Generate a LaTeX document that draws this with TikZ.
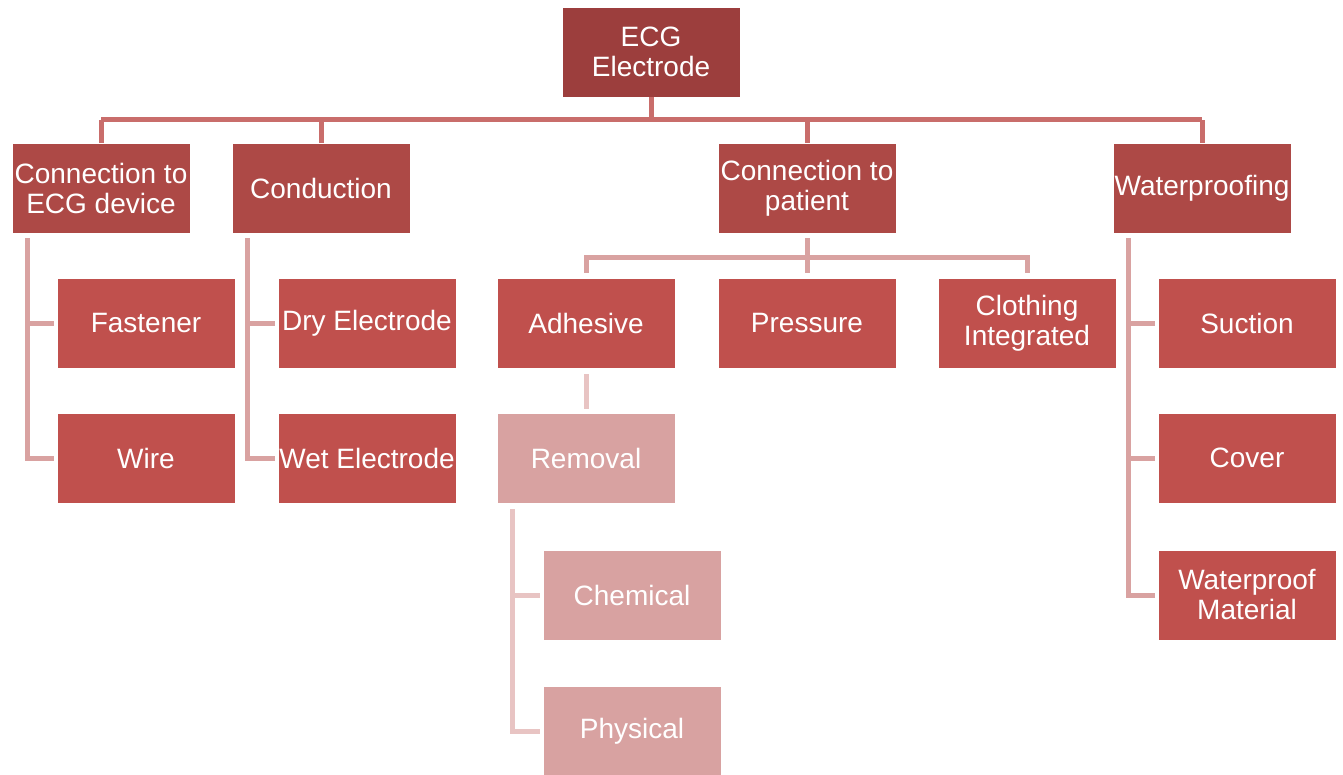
\documentclass[tikz,border=0pt]{standalone}
\usepackage{fontspec}
\setmainfont{Liberation Sans}
\usetikzlibrary{positioning}

\definecolor{rootred}{HTML}{9C3E3D}
\definecolor{topred}{HTML}{AD4946}
\definecolor{midred}{HTML}{C0504D}
\definecolor{palered}{HTML}{D8A2A1}
\definecolor{lineA}{HTML}{C96D6B}
\definecolor{lineB}{HTML}{D9A2A1}
\definecolor{lineC}{HTML}{E8C4C3}

\begin{document}
\begin{tikzpicture}
        [x=0.5pt,y=-0.5pt,
        every node/.style={rectangle,draw=white,line width=0.4pt,text=white,align=center,
          minimum width=89pt,minimum height=45pt,inner sep=0pt,
          font=\fontsize{14}{15}\selectfont},
        rootbox/.style={fill=rootred},
        catbox/.style={fill=topred},
        subbox/.style={fill=midred},
        palebox/.style={fill=palered},
        lnkA/.style={draw=lineA,line width=2.5pt},
        lnkB/.style={draw=lineB,line width=2.5pt},
        lnkC/.style={draw=lineC,line width=2.5pt}]
        \useasboundingbox (0,0) rectangle (1343,775);

        \node[rootbox] (root) at (651,52) {ECG\\Electrode};

        \node[catbox] (dev) at (101,188) {Connection to\\ECG device};
        \node[catbox] (cond) at (321,188) {Conduction};
        \node[catbox] (pat) at (807,188) {Connection to\\patient};
        \node[catbox] (wat) at (1202,188) {Waterproofing};

        \node[subbox] (fast) at (146,323) {Fastener};
        \node[subbox] (wire) at (146,458) {Wire};
        \node[subbox] (dry) at (367,323) {Dry Electrode};
        \node[subbox] (wet) at (367,458) {Wet Electrode};
        \node[subbox] (adh) at (586,323) {Adhesive};
        \node[subbox] (press) at (807,323) {Pressure};
        \node[subbox] (cloth) at (1027,323) {Clothing\\Integrated};
        \node[subbox] (suct) at (1247,323) {Suction};
        \node[subbox] (cover) at (1247,458) {Cover};
        \node[subbox] (wmat) at (1247,595) {Waterproof\\Material};

        \node[palebox] (remo) at (586,458) {Removal};
        \node[palebox] (chem) at (632,595) {Chemical};
        \node[palebox] (phys) at (632,731) {Physical};

        % first level
        \coordinate (bus) at (651,120);
        \draw[lnkA] (root.south) -- (bus);
        \draw[lnkA] (dev.north |- bus) -- (wat.north |- bus);
        \foreach \n in {dev,cond,pat,wat}
          \draw[lnkA] (\n.north) -- (\n.north |- bus);

        % second level
        \coordinate (pbus) at (807,258);
        \draw[lnkB] ([yshift=-2.5pt]pat.south) -- ([yshift=2.5pt]press.north);
        \draw[lnkB] ([yshift=2.5pt]adh.north) |- (pbus) -| ([yshift=2.5pt]cloth.north);
        \draw[lnkB] ([xshift=8pt,yshift=-2.5pt]dev.south west) |- ([xshift=-1.5pt]wire.west);
        \draw[lnkB] ([xshift=8pt]dev.south west |- fast.west) -- ([xshift=-1.5pt]fast.west);
        \draw[lnkB] ([xshift=8pt,yshift=-2.5pt]cond.south west) |- ([xshift=-1.5pt]wet.west);
        \draw[lnkB] ([xshift=8pt]cond.south west |- dry.west) -- ([xshift=-1.5pt]dry.west);
        \draw[lnkB] ([xshift=8pt,yshift=-2.5pt]wat.south west) |- ([xshift=-1.5pt]wmat.west);
        \draw[lnkB] ([xshift=8pt]wat.south west |- suct.west) -- ([xshift=-1.5pt]suct.west);
        \draw[lnkB] ([xshift=8pt]wat.south west |- cover.west) -- ([xshift=-1.5pt]cover.west);

        % removal branch
        \draw[lnkC] ([yshift=-3pt]adh.south) -- ([yshift=2pt]remo.north);
        \draw[lnkC] ([xshift=8pt,yshift=-3pt]remo.south west) |- ([xshift=-1.5pt]phys.west);
        \draw[lnkC] ([xshift=8pt]remo.south west |- chem.west) -- ([xshift=-1.5pt]chem.west);

    \end{tikzpicture}
\end{document}
